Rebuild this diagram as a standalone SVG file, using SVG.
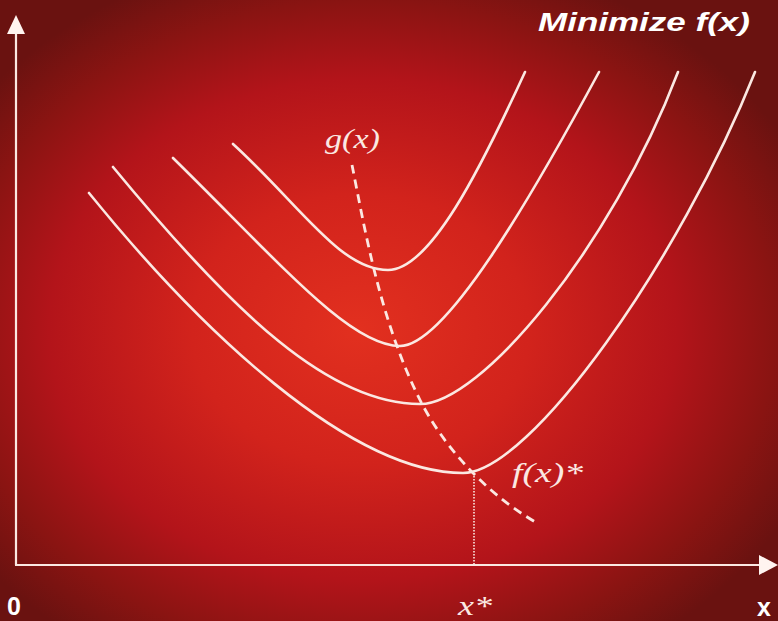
<svg xmlns="http://www.w3.org/2000/svg" width="778" height="621" viewBox="0 0 778 621">
<defs>
<radialGradient id="bg" cx="47%" cy="53%" r="62%" fx="46%" fy="53%">
<stop offset="0" stop-color="#e2301f"/>
<stop offset="0.35" stop-color="#d2231c"/>
<stop offset="0.65" stop-color="#b3141a"/>
<stop offset="0.85" stop-color="#8a1412"/>
<stop offset="1" stop-color="#6a1210"/>
</radialGradient>
<style>
.curve{fill:none;stroke:#fbe8e2;stroke-width:2.6;stroke-linecap:round}
.axis{fill:none;stroke:#fbe8e2;stroke-width:2.2}
.dash{fill:none;stroke:#fbe8e2;stroke-width:2.8;stroke-dasharray:9 6}
.dot{fill:none;stroke:#fbe8e2;stroke-width:1.6;stroke-dasharray:1.5 1.5}
.math{font-family:"Liberation Serif","Times New Roman",serif;font-style:italic;fill:#fbe8e2;font-size:28px}
.sans{font-family:"Liberation Sans",Arial,sans-serif;font-weight:bold;fill:#ffffff}
</style>
</defs>
<rect x="0" y="0" width="778" height="621" fill="url(#bg)"/>
<g id="axes">
<line class="axis" x1="16" y1="30" x2="16" y2="565"/>
<line class="axis" x1="15" y1="565" x2="762" y2="565"/>
<polygon points="16,15 7,34 25,34" fill="#fff4f0"/>
<polygon points="778,565 759,555 759,575" fill="#fff4f0"/>
</g>
<g id="curves">
<path class="curve" d="M233,144 C300,205 340,270 388,270 C430,270 480,170 525,72"/>
<path class="curve" d="M173,158 C280,263 350,346 400,346 C445,346 530,200 599,72"/>
<path class="curve" d="M113,167 C235,315 330,404 420,404 C480,404 610,250 678,72"/>
<path class="curve" d="M89,193 C200,330 350,473 463,473 C530,473 680,260 755,72"/>
</g>
<g id="connectors">
<path class="dash" d="M352,165 C365,230 380,320 420,400 C440,440 480,490 537,523"/>
<line class="dot" x1="474" y1="473" x2="474" y2="564"/>
</g>
<g id="labels">
<text class="sans" x="538" y="31" font-size="25" font-style="italic" textLength="212" lengthAdjust="spacingAndGlyphs">Minimize f(x)</text>
<text class="math" x="325" y="148" textLength="55" lengthAdjust="spacingAndGlyphs">g(x)</text>
<text class="math" x="512" y="482" textLength="71" lengthAdjust="spacingAndGlyphs">f(x)*</text>
<text class="math" x="458" y="615" textLength="34" lengthAdjust="spacingAndGlyphs">x*</text>
<text class="sans" x="7" y="615" font-size="25">0</text>
<text class="sans" x="757" y="616" font-size="25">x</text>
</g>
</svg>
